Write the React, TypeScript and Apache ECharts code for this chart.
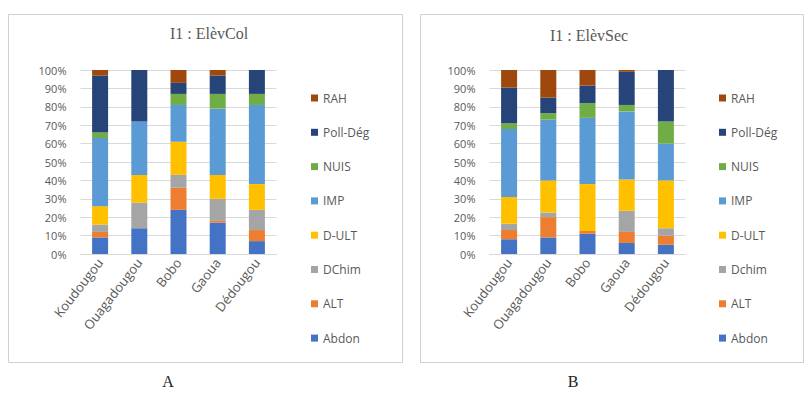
import React, { useEffect, useRef } from "react";
import * as echarts from "echarts";

const categories = ["Koudougou", "Ouagadougou", "Bobo", "Gaoua", "Dédougou"];
const yTicks = [0, 10, 20, 30, 40, 50, 60, 70, 80, 90, 100];

const seriesNamesA = ["Abdon", "ALT", "DChim", "D-ULT", "IMP", "NUIS", "Poll-Dég", "RAH"];
const seriesNamesB = ["Abdon", "ALT", "Dchim", "D-ULT", "IMP", "NUIS", "Poll-Dég", "RAH"];
const seriesColors = ["#4472C4", "#ED7D31", "#A5A5A5", "#FFC000", "#5B9BD5", "#70AD47", "#264478", "#9E480E"];

// Panel A : I1 : ElèvCol (percent per category)
const abdonA = [9, 14, 24, 17, 7];
const altA = [3, 0, 12, 1, 6];
const dchimA = [4, 14, 7, 12, 11];
const dultA = [10, 15, 18, 13, 14];
const impA = [37, 29, 20, 36, 43];
const nuisA = [3, 0, 6, 8, 6];
const pollA = [31, 28, 6, 10, 13];
const rahA = [3, 0, 7, 3, 0];

// Panel B : I1 : ElèvSec
const abdonB = [8, 9, 11, 6, 5];
const altB = [5, 11, 1.5, 6, 5];
const dchimB = [3.5, 2.5, 0, 11.5, 4];
const dultB = [14.5, 17.5, 25.5, 17, 26];
const impB = [37, 33, 36, 37, 20];
const nuisB = [3, 3.5, 8, 3.5, 12];
const pollB = [19.5, 8.5, 9.5, 18, 28];
const rahB = [9.5, 15, 8.5, 1, 0];

const valuesA = [abdonA, altA, dchimA, dultA, impA, nuisA, pollA, rahA];
const valuesB = [abdonB, altB, dchimB, dultB, impB, nuisB, pollB, rahB];

const gray = "#595959";

export default function App() {
  const ref = useRef<HTMLDivElement>(null);
  useEffect(() => {
    if (!ref.current) return;
    const chart = echarts.init(ref.current, undefined, { renderer: "svg" });
    const mkX = (gi: number) => ({
      type: "category",
      gridIndex: gi,
      data: categories,
      axisTick: { show: false },
      axisLine: { lineStyle: { color: "#d9d9d9" } },
      axisLabel: { rotate: 52, interval: 0, color: gray, fontSize: 13, fontFamily: "Open Sans", margin: 6 },
    });
    const mkY = (gi: number) => ({
      type: "value",
      gridIndex: gi,
      min: yTicks[0],
      max: yTicks[yTicks.length - 1],
      interval: 10,
      axisLine: { show: false },
      axisTick: { show: false },
      axisLabel: { formatter: "{value}%", color: gray, fontSize: 11, fontFamily: "Open Sans", margin: 14 },
      splitLine: { lineStyle: { color: "#d9d9d9" } },
    });
    const mkSeries = (names: string[], vals: number[][], gi: number, stack: string) =>
      names.map((n, i) => ({
        type: "bar",
        name: n,
        stack,
        xAxisIndex: gi,
        yAxisIndex: gi,
        barWidth: 16,
        itemStyle: { color: seriesColors[i] },
        data: vals[i],
      }));
    const mkLegend = (names: string[], left: number) => ({
      orient: "vertical",
      left,
      top: 86,
      itemWidth: 7,
      itemHeight: 7,
      itemGap: 20.3,
      icon: "rect",
      data: [...names].reverse(),
      textStyle: { color: gray, fontSize: 12, fontFamily: "Open Sans", lineHeight: 14 },
    });
    chart.setOption({
      animation: false,
      title: [
        { text: "I1 : ElèvCol", left: 204, top: 20, textAlign: "center", textStyle: { fontFamily: "Liberation Serif", fontWeight: "normal", fontSize: 16, color: gray } },
        { text: "I1 : ElèvSec", left: 584, top: 22, textAlign: "center", textStyle: { fontFamily: "Liberation Serif", fontWeight: "normal", fontSize: 16, color: gray } },
      ],
      grid: [
        { left: 80.5, top: 70, width: 196, height: 184 },
        { left: 489.5, top: 70, width: 196, height: 184 },
      ],
      xAxis: [mkX(0), mkX(1)],
      yAxis: [mkY(0), mkY(1)],
      legend: [mkLegend(seriesNamesA, 306), mkLegend(seriesNamesB, 714)],
      series: [...mkSeries(seriesNamesA, valuesA, 0, "A"), ...mkSeries(seriesNamesB, valuesB, 1, "B")],
      graphic: [
        { type: "rect", shape: { x: 8.5, y: 14.5, width: 394, height: 348 }, style: { fill: "none", stroke: "#d0d0d0", lineWidth: 1 } },
        { type: "rect", shape: { x: 420.5, y: 14.5, width: 383, height: 348 }, style: { fill: "none", stroke: "#d0d0d0", lineWidth: 1 } },
        { type: "text", x: 168, y: 381, style: { text: "A", fill: "#222", font: "16px 'Liberation Serif'", textAlign: "center", textVerticalAlign: "middle" } },
        { type: "text", x: 573, y: 381, style: { text: "B", fill: "#222", font: "16px 'Liberation Serif'", textAlign: "center", textVerticalAlign: "middle" } },
      ],
    });
    return () => chart.dispose();
  }, []);
  return <div ref={ref} style={{ position: "fixed", left: 0, top: 0, width: 807, height: 396, background: "#fff" }} />;
}
